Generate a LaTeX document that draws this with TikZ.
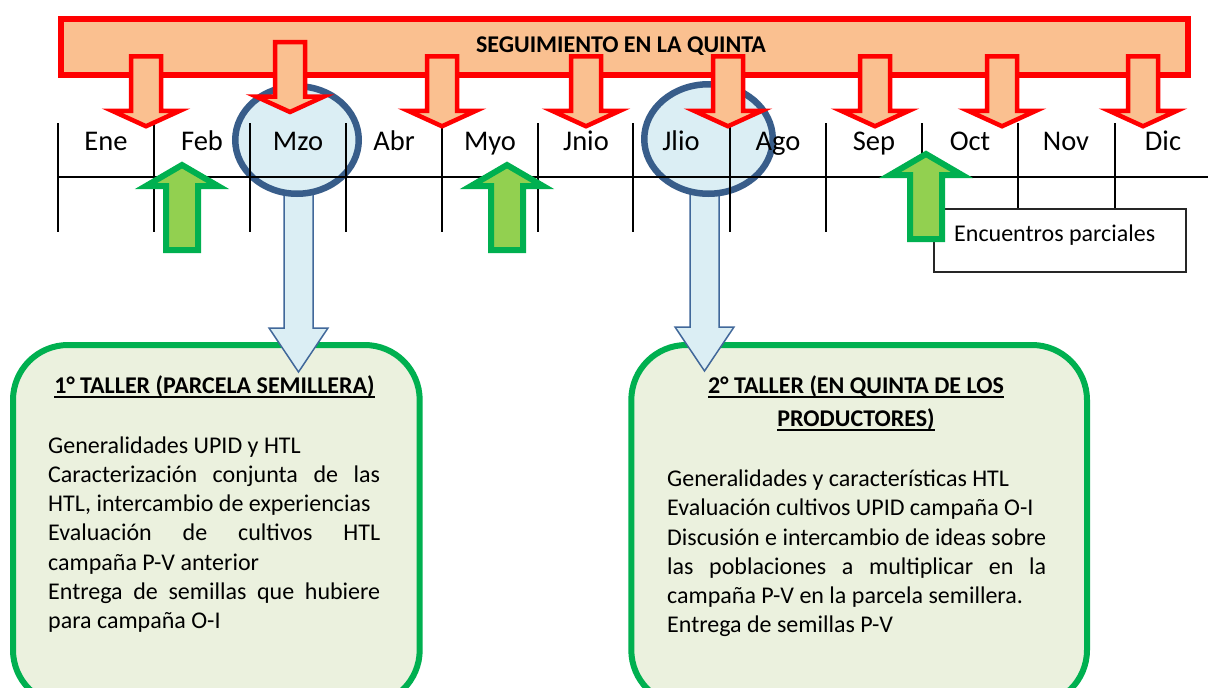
\documentclass[tikz,border=0pt]{standalone}
\usepackage{fontspec}
\setmainfont{Carlito}
\usetikzlibrary{shapes.geometric,calc}
\definecolor{peach}{HTML}{FAC090}
\definecolor{ared}{HTML}{FF0000}
\definecolor{cfill}{HTML}{DBEEF4}
\definecolor{cborder}{HTML}{385D8A}
\definecolor{abborder}{HTML}{41689A}
\definecolor{gfill}{HTML}{92D050}
\definecolor{gline}{HTML}{00B050}
\definecolor{boxfill}{HTML}{EBF1DE}
\tikzset{
  tallerbox/.style={draw=gline, fill=boxfill, line width=6pt, rounded corners=55pt, rectangle, inner sep=0pt},
  bodytext/.style={inner sep=0pt, font=\fontsize{24}{29}\selectfont, text=black, anchor=base west},
  titletext/.style={inner sep=0pt, font=\fontsize{24}{29}\selectfont\bfseries, text=black, anchor=base},
  monthtext/.style={inner sep=0pt, font=\fontsize{28.5}{34}\selectfont, text=black, anchor=base},
  uline/.style={line width=1.8pt, black},
  circ/.style={ellipse, draw=cborder, fill=cfill, line width=6.5pt, inner sep=0pt},
  tline/.style={line width=2pt, black},
  bannerbox/.style={rectangle, draw=ared, fill=peach, line width=5.5pt, inner sep=0pt},
  encbox/.style={rectangle, draw=black!85, fill=white, line width=1.5pt, inner sep=0pt},
  redarrow/.style={draw=ared, fill=peach, line width=4.5pt, line join=miter},
  greenarrow/.style={draw=gline, fill=gfill, line width=6pt, line join=miter},
  bluearrow/.style={draw=abborder, fill=cfill, line width=1.5pt, line join=miter},
  redarr/.pic={\path[redarrow] (-15,0) -- (15,0) -- (15,54.5) -- (34,54.5) -- (0,70) -- (-34,54.5) -- (-15,54.5) -- cycle;},
  greenarr/.pic={\path[greenarrow] (0,0) -- (36,21) -- (16,21) -- (16,85) -- (-16,85) -- (-16,21) -- (-36,21) -- cycle;},
  bluearr/.pic={\path[bluearrow] (-14.5,0) -- (14.5,0) -- (14.5,143) -- (29.5,143) -- (0,187) -- (-29.5,143) -- (-14.5,143) -- cycle;}
}
\begin{document}
\begin{tikzpicture}[x=1pt,y=-1pt]
\useasboundingbox (0,0) rectangle (1208,688);
\clip (0,0) rectangle (1208,688);
\fill[white] (0,0) rectangle (1208,688);

% taller boxes
\node[tallerbox, minimum width=406.7pt, minimum height=360pt, anchor=north west] (b1) at (10,342) {};
\node[tallerbox, minimum width=455.7pt, minimum height=360pt, anchor=north west] (b2) at (628.3,342) {};

% box 1 text
\node[titletext] (tt1) at (214.5,393.3) {1° TALLER (PARCELA SEMILLERA)};
\draw[uline] ([yshift=-3.5pt]tt1.base west) -- ([yshift=-3.5pt]tt1.base east);
\node[bodytext] (a1) at (48,453.3) {Generalidades UPID y HTL};
\node[bodytext] (a2) at (48,482.4) {\hbox to 332pt{Caracterización\hfill conjunta\hfill de\hfill las}};
\node[bodytext] (a3) at (48,511.6) {HTL, intercambio de experiencias};
\node[bodytext] (a4) at (48,540.8) {\hbox to 332pt{Evaluación\hfill de\hfill cultivos\hfill HTL}};
\node[bodytext] (a5) at (48,570) {campaña P-V anterior};
\node[bodytext] (a6) at (48,599.1) {\hbox to 332pt{Entrega\hfill de\hfill semillas\hfill que\hfill hubiere}};
\node[bodytext] (a7) at (48,628.3) {para campaña O-I};

% box 2 text
\node[titletext] (tt2) at (856,393.3) {2° TALLER (EN QUINTA DE LOS};
\draw[uline] ([yshift=-3.5pt]tt2.base west) -- ([yshift=-3.5pt]tt2.base east);
\node[titletext] (tt3) at (856,426.7) {PRODUCTORES)};
\draw[uline] ([yshift=-3.5pt]tt3.base west) -- ([yshift=-3.5pt]tt3.base east);
\node[bodytext] (c1l) at (667,486.7) {Generalidades y características HTL};
\node[bodytext] (c2l) at (667,515.9) {Evaluación cultivos UPID campaña O-I};
\node[bodytext] (c3l) at (667,545.1) {\hbox to 379pt{Discusión e intercambio de ideas sobre}};
\node[bodytext] (c4l) at (667,574.3) {\hbox to 379pt{las\hfill poblaciones\hfill a\hfill multiplicar\hfill en\hfill la}};
\node[bodytext] (c5l) at (667,603.5) {campaña P-V en la parcela semillera.};
\node[bodytext] (c6l) at (667,632.7) {Entrega de semillas P-V};

% blue arrows from circles to boxes
\pic at (298.5,185) {bluearr};
\pic at (704.5,184) {bluearr};

% circles
\node[circ, minimum width=123.5pt, minimum height=107.5pt] (cm) at (297,140) {};
\node[circ, minimum width=128.5pt, minimum height=109.5pt] (cj) at (708.5,139) {};

% timeline
\coordinate (tl0) at (58,177);
\coordinate (tl1) at (1208,177);
\draw[tline] (tl0) -- (tl1);
\foreach \x in {58,154,250,346,442,538,633,730,826,922,1018,1115} {
  \draw[tline] (\x,123) -- (\x,232);
}
\foreach \m/\x in {Ene/106,Feb/202,Mzo/298,Abr/394,Myo/490,Jnio/586,Jlio/681,Ago/778,Sep/874,Oct/970,Nov/1066,Dic/1163} {
  \node[monthtext] (m\m) at (\x,150) {\m};
}

% encuentros box
\node[encbox, minimum width=252pt, minimum height=63pt, anchor=north west] (enc) at (933,208) {};
\node[bodytext] (enct) at (954,241) {Encuentros parciales};

% banner
\node[bannerbox, minimum width=1127pt, minimum height=56pt, anchor=north west] (ban) at (58,16) {};
\node[titletext] (bant) at (621,52) {SEGUIMIENTO EN LA QUINTA};

% red arrows
\foreach \x in {146,442,586,728,875,1002,1143} {
  \pic at (\x,56.25) {redarr};
}
\pic at (290,42) {redarr};

% green arrows
\pic at (182,165) {greenarr};
\pic at (507,165) {greenarr};
\pic at (926,154) {greenarr};
\end{tikzpicture}
\end{document}
